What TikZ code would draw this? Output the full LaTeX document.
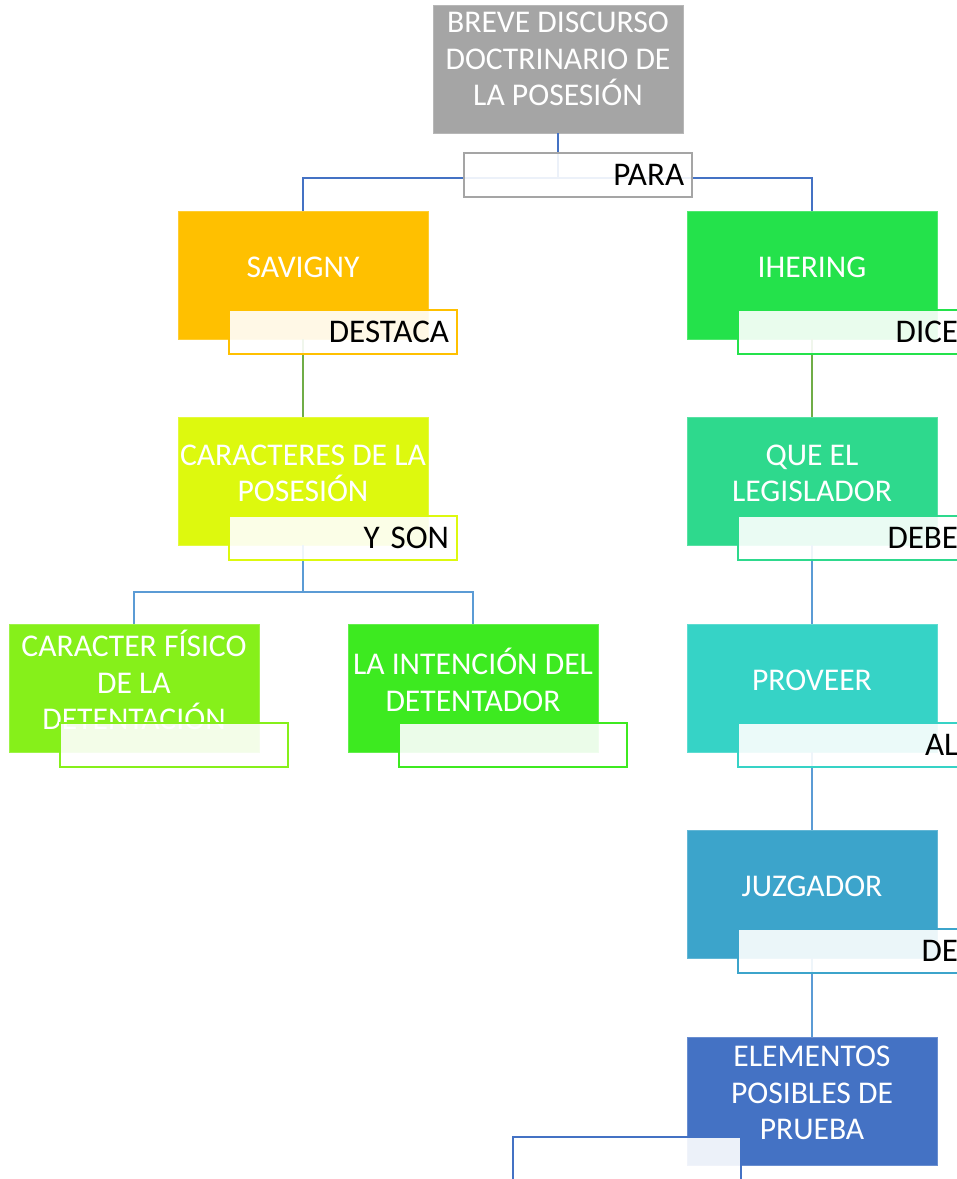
\documentclass[tikz,border=0pt]{standalone}
\usepackage{fontspec}
\setmainfont{Carlito}
\usetikzlibrary{calc}   %allows coordinate calculations.

\definecolor{gris}{HTML}{A5A5A5}
\definecolor{naranja}{HTML}{FFC000}
\definecolor{verdeI}{HTML}{24E24B}
\definecolor{limon}{HTML}{DDF90E}
\definecolor{verdeL}{HTML}{2ED98D}
\definecolor{pasto}{HTML}{86F01A}
\definecolor{verdeD}{HTML}{3DEA20}
\definecolor{turquesa}{HTML}{36D3C6}
\definecolor{celeste}{HTML}{3CA4CB}
\definecolor{azul}{HTML}{4472C4}
\definecolor{azulclaro}{HTML}{5B9BD5}
\definecolor{verdelinea}{HTML}{70AD47}

\begin{document}
\begin{tikzpicture}[x=0.25mm,y=-0.25mm,
  caja/.style={fill=#1, draw=#1!80!white, line width=0.3pt, minimum width=62.5mm, minimum height=32mm, inner sep=0pt},
  texto/.style={text=white, align=center, font=\fontsize{22.5}{25.8}\selectfont, inner sep=0pt},
  etiqueta/.style={fill=white, fill opacity=0.9, text opacity=1, draw=#1, line width=0.65mm, anchor=south west,
    minimum width=57mm, minimum height=11mm, text width=53mm, inner xsep=2mm, inner ysep=0pt, align=right,
    font=\fontsize{23.5}{26}\selectfont},
  enlace/.style={draw=#1, line width=0.7mm}]

\useasboundingbox (0,0) rectangle (957,1179);

% Boxes
\node[caja=gris] (top) at (558,69) {};
\node[caja=naranja] (sav) at (303,275) {};
\node[caja=verdeI] (ihe) at (812,275) {};
\node[caja=limon] (car) at (303,481) {};
\node[caja=verdeL] (leg) at (812,481) {};
\node[caja=pasto] (fis) at (134,688) {};
\node[caja=verdeD] (inte) at (473,688) {};
\node[caja=turquesa] (pro) at (812,688) {};
\node[caja=celeste] (juz) at (812,894) {};
\node[caja=azul] (ele) at (812,1101) {};

% Connectors
\coordinate (topsplit) at (558,178);
\coordinate (carsplit) at (303,592);
\draw[enlace=azul] (top.south) -- (topsplit) -| (sav.north);
\draw[enlace=azul] (topsplit) -| (ihe.north);
\draw[enlace=verdelinea] (sav.south) -- (car.north);
\draw[enlace=verdelinea] (ihe.south) -- (leg.north);
\draw[enlace=azulclaro] (car.south) -- (carsplit) -| (fis.north);
\draw[enlace=azulclaro] (carsplit) -| (inte.north);
\draw[enlace=azulclaro] (leg.south) -- (pro.north);
\draw[enlace=azulclaro] (pro.south) -- (juz.north);
\draw[enlace=azulclaro] (juz.south) -- (ele.north);

% Texts of the boxes
\node[texto] (topT) at ([yshift=2.5mm]top.center) {BREVE DISCURSO\\DOCTRINARIO DE\\LA POSESIÓN};
\node[texto] (savT) at ([yshift=2mm]sav.center) {SAVIGNY};
\node[texto] (iheT) at ([yshift=2mm]ihe.center) {IHERING};
\node[texto] (carT) at ([yshift=2mm]car.center) {CARACTERES DE LA\\POSESIÓN};
\node[texto] (legT) at ([yshift=2mm]leg.center) {QUE EL\\LEGISLADOR};
\node[texto] (fisT) at ([yshift=2mm]fis.center) {CARACTER FÍSICO\\DE LA\\DETENTACIÓN};
\node[texto] (inteT) at ([yshift=2mm]inte.center) {LA INTENCIÓN DEL\\DETENTADOR};
\node[texto] (proT) at ([yshift=2mm]pro.center) {PROVEER};
\node[texto] (juzT) at ([yshift=2mm]juz.center) {JUZGADOR};
\node[texto] (eleT) at ([yshift=2mm]ele.center) {ELEMENTOS\\POSIBLES DE\\PRUEBA};

% Link labels
\node[etiqueta=gris] (topL) at ($(top.south west)+(30,65)$) {PARA};
\node[etiqueta=naranja] (savL) at ($(sav.south west)+(50,16)$) {DESTACA};
\node[etiqueta=verdeI] (iheL) at ($(ihe.south west)+(50,16)$) {DICE};
\node[etiqueta=limon] (carL) at ($(car.south west)+(50,16)$) {Y SON};
\node[etiqueta=verdeL] (legL) at ($(leg.south west)+(50,16)$) {DEBE};
\node[etiqueta=pasto] (fisL) at ($(fis.south west)+(50,16)$) {};
\node[etiqueta=verdeD] (inteL) at ($(inte.south west)+(50,16)$) {};
\node[etiqueta=turquesa] (proL) at ($(pro.south west)+(50,16)$) {AL};
\node[etiqueta=celeste] (juzL) at ($(juz.south west)+(50,16)$) {DE};
\node[etiqueta=azul] (eleL) at ($(ele.south west)+(-175,17)$) {};

\end{tikzpicture}
\end{document}
